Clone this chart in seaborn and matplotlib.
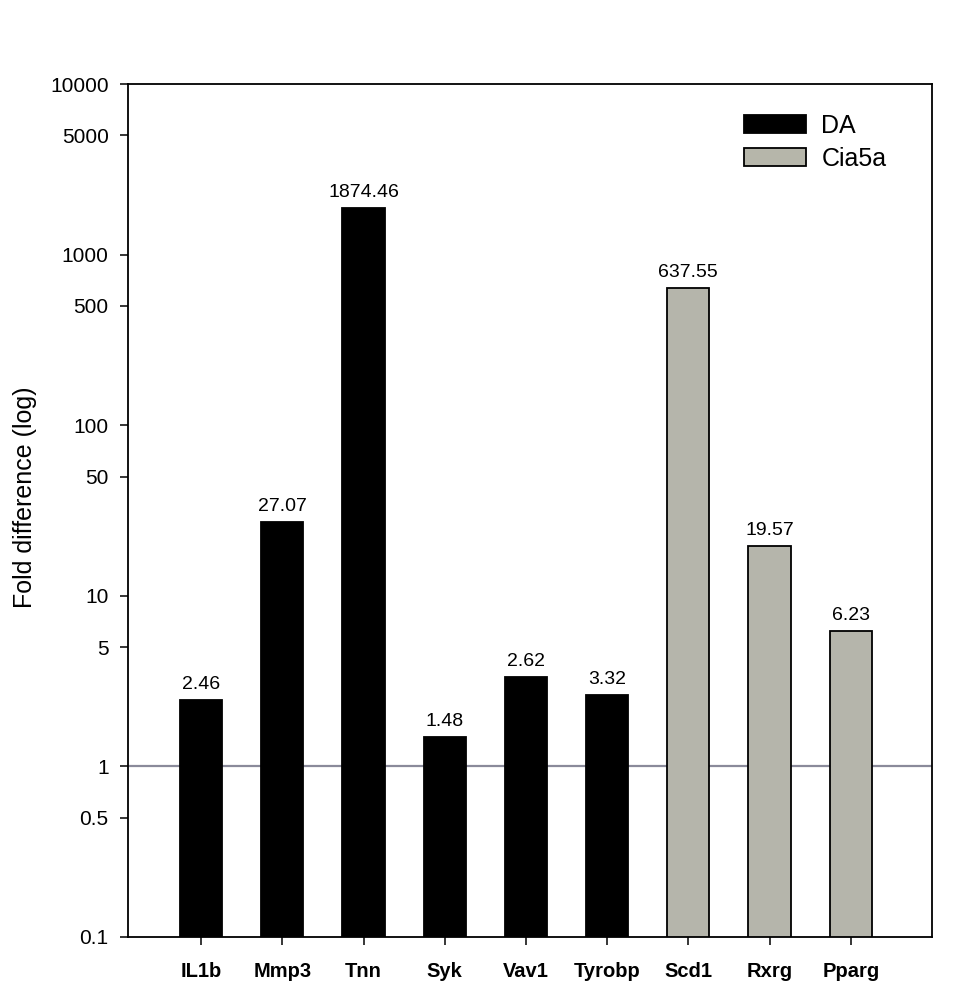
import matplotlib
matplotlib.use("Agg")
import matplotlib.pyplot as plt
from matplotlib.patches import Patch
import matplotlib.ticker as ticker
import seaborn as sns
import pandas as pd

genes = ["IL1b", "Mmp3", "Tnn", "Syk", "Vav1", "Tyrobp", "Scd1", "Rxrg", "Pparg"]
strain = ["DA", "DA", "DA", "DA", "DA", "DA", "Cia5a", "Cia5a", "Cia5a"]
fold = [2.46, 27.07, 1874.46, 1.48, 3.32, 2.62, 637.55, 19.57, 6.23]
value_labels = ["2.46", "27.07", "1874.46", "1.48", "2.62", "3.32",
                "637.55", "19.57", "6.23"]
ytick_vals = [0.1, 0.5, 1, 5, 10, 50, 100, 500, 1000, 5000, 10000]
ytick_labels = ["0.1", "0.5", "1", "5", "10", "50", "100", "500", "1000",
                "5000", "10000"]
colors = {"DA": "#000000", "Cia5a": "#B6B6AA"}


def main():
    df = pd.DataFrame({"gene": genes, "strain": strain, "fold": fold})
    sns.set_style("ticks")
    plt.rcParams["font.family"] = ["Liberation Sans", "DejaVu Sans"]
    plt.rcParams["text.color"] = "black"
    plt.rcParams["axes.labelcolor"] = "black"
    plt.rcParams["xtick.color"] = "black"
    plt.rcParams["ytick.color"] = "black"

    fig = plt.figure(figsize=(9.75, 10.05), dpi=100)
    ax = fig.add_axes([0.1313, 0.0677, 0.8246, 0.8487])

    sns.barplot(df, x="gene", y="fold", hue="strain", palette=colors,
                dodge=False, width=0.52, edgecolor="black", linewidth=1.3,
                legend=False, ax=ax)
    ax.set_yscale("log")
    ax.set_ylim(0.1, 10000)
    ax.set_xlim(-0.9, 9.0)
    ax.axhline(1, color="#8A8A9A", lw=1.6, zorder=0.5)

    for i, (v, lab) in enumerate(zip(fold, value_labels)):
        ax.annotate(lab, (i, v), xytext=(0, 8), textcoords="offset points",
                    ha="center", va="baseline", fontsize=14, color="black")

    ax.yaxis.set_major_locator(ticker.FixedLocator(ytick_vals))
    ax.yaxis.set_minor_locator(ticker.NullLocator())
    ax.set_yticklabels(ytick_labels, fontsize=15)
    ax.tick_params(axis="y", length=6, width=1.1, pad=8, colors="black")
    ax.tick_params(axis="x", length=6, width=1.1, pad=12, colors="black")
    for t in ax.get_xticklabels():
        t.set_fontweight("bold")
        t.set_fontsize(14.5)
    for s in ax.spines.values():
        s.set_visible(True)
        s.set_linewidth(1.3)
        s.set_color("black")

    ax.set_xlabel("")
    ax.set_ylabel("Fold difference (log)", fontsize=18, color="black")
    ax.yaxis.set_label_coords(-0.113, 0.515)

    handles = [Patch(facecolor=colors[k], edgecolor="black", lw=1.3)
               for k in ["DA", "Cia5a"]]
    leg = ax.legend(handles, ["DA", "Cia5a"], loc="upper left",
                    bbox_to_anchor=(0.766, 0.965), frameon=False, fontsize=18,
                    handlelength=2.5, handleheight=0.7, handletextpad=0.6,
                    labelspacing=0.35, borderpad=0, borderaxespad=0)
    for t in leg.get_texts():
        t.set_color("black")

    fig.savefig("out.png", dpi=100)


if __name__ == "__main__":
    main()
